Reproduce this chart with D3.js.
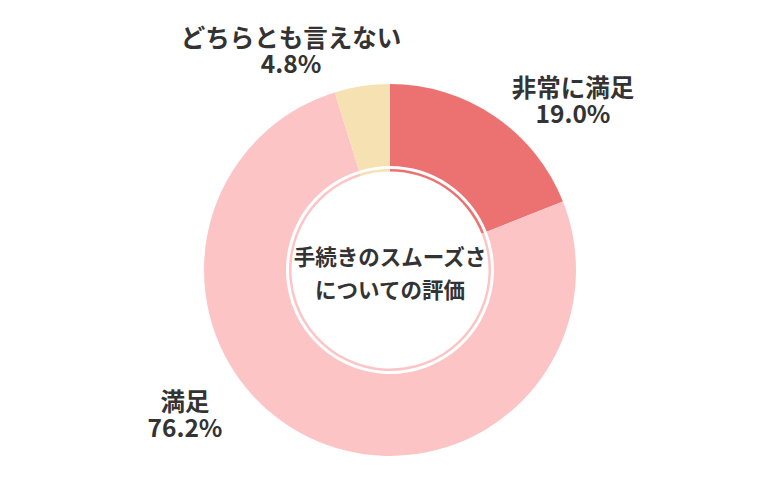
<!DOCTYPE html>
<html><head><meta charset="utf-8">
<script src="https://cdn.jsdelivr.net/npm/d3@7"></script>
<style>html,body{margin:0;padding:0;background:#fff;}svg{display:block;}</style>
</head><body>
<svg id="chart" width="780" height="500"></svg>
<script>
const categories = ["非常に満足", "満足", "どちらとも言えない"];
const values = [19.0, 76.2, 4.8];
const valueLabels = ["19.0%", "76.2%", "4.8%"];
const colors = ["#EC7272", "#FDC4C6", "#F6E1B2"];
const centerTitle = ["手続きのスムーズさ", "についての評価"];
// label anchor positions (layout, not data)
const labelPos = [[573, 86], [185, 400], [291, 36]];

const svg = d3.select("#chart");
const cx = 390, cy = 270;
const outerR = 186, innerR = 104;
const ringOuter = 101, ringInner = 98.5;
const font = "'Noto Sans CJK JP', 'Noto Sans', sans-serif";

const data = categories.map((c, i) => ({cat: c, value: values[i], label: valueLabels[i], color: colors[i]}));
const pie = d3.pie().value(d => d.value).sort(null);
const arcs = pie(data);
const g = svg.append("g").attr("transform", `translate(${cx},${cy})`);

const arcMain = d3.arc().innerRadius(innerR).outerRadius(outerR);
const arcRing = d3.arc().innerRadius(ringInner).outerRadius(ringOuter);

g.selectAll("path.main").data(arcs).join("path")
  .attr("class", "main").attr("d", arcMain).attr("fill", d => d.data.color);
g.selectAll("path.ring").data(arcs).join("path")
  .attr("class", "ring").attr("d", arcRing).attr("fill", d => d.data.color);

g.selectAll("text.center").data(centerTitle).join("text")
  .attr("class", "center")
  .attr("x", 0).attr("y", (d, i) => -15 + i * 33)
  .attr("text-anchor", "middle").attr("dominant-baseline", "central")
  .attr("font-family", font).attr("font-weight", "bold").attr("font-size", 21.5)
  .attr("fill", "#333").text(d => d);

const lab = svg.selectAll("g.lab").data(data).join("g").attr("class", "lab")
  .attr("transform", (d, i) => `translate(${labelPos[i][0]},${labelPos[i][1]})`);
lab.append("text").attr("text-anchor", "middle").attr("dominant-baseline", "central")
  .attr("font-family", font).attr("font-weight", "bold").attr("font-size", 24.5)
  .attr("fill", "#333").text(d => d.cat);
lab.append("text").attr("y", 26).attr("text-anchor", "middle").attr("dominant-baseline", "central")
  .attr("font-family", font).attr("font-weight", "bold").attr("font-size", 24.5)
  .attr("fill", "#333").text(d => d.label);
</script>
</body></html>
